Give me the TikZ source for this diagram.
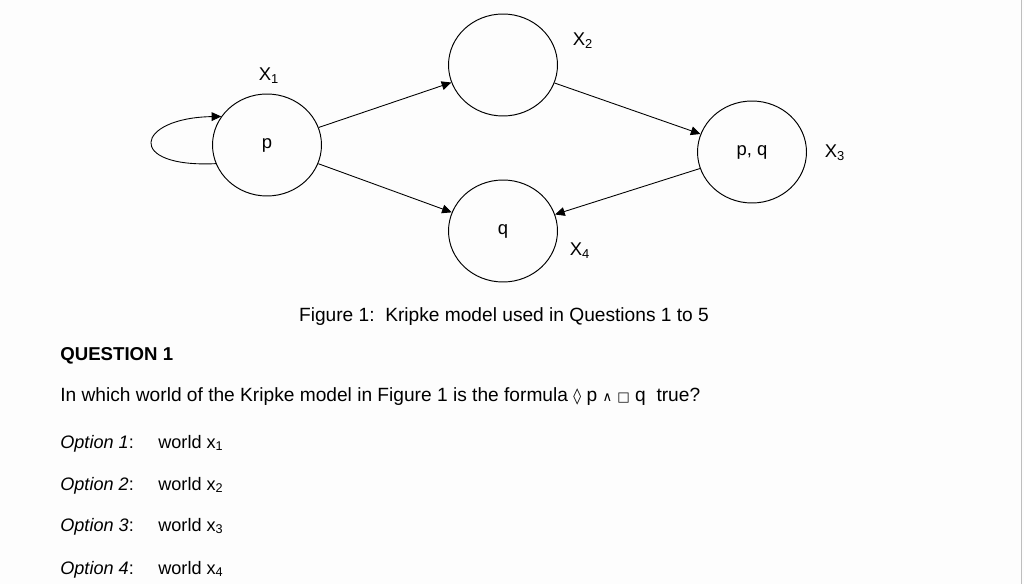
\documentclass[tikz,border=0pt]{standalone}
\usepackage{fontspec}
\setmainfont{Liberation Sans}
\newfontfamily\symfont{DejaVu Sans}
\usetikzlibrary{positioning, shapes.geometric, arrows.meta}
\definecolor{kmGray}{RGB}{190, 190, 190}
\definecolor{kmPaper}{RGB}{253, 253, 253}
\tikzset{
    base/.style={
        font=\fontsize{10.5pt}{12pt}\selectfont,
        inner sep=0pt
    },
    world/.style={
        base,
        ellipse,
        draw,
        line width=0.55pt,
        minimum width=2.18cm,
        minimum height=2.04cm
    },
    flow/.style={
        -{Triangle[length=5.5pt, width=5pt]},
        line width=0.5pt
    },
    tag/.style={
        base
    },
    line/.style={
        base,
        font=\fontsize{10.9pt}{13pt}\selectfont,
        anchor=base west
    }
}

\begin{document}
\begin{tikzpicture}[x=0.02cm, y=-0.02cm]
  \useasboundingbox (0,0) rectangle (1024,584);
  \fill[kmPaper] (0,0) rectangle (1024,584);
  \draw[kmGray, line width=0.8pt] (1021.5,0) -- (1021.5,584);

  % Worlds
  \node[world] (x1) at (267,145) {p};
  \node[world] (x2) at (503,65) {};
  \node[world] (x3) at (752,152) {p, q};
  \node[world] (x4) at (503,231) {q};

  % World names
  \node[tag] (n1) at (269,76) {X\textsubscript{1}};
  \node[tag] (n2) at (583,41) {X\textsubscript{2}};
  \node[tag] (n3) at (835,153) {X\textsubscript{3}};
  \node[tag] (n4) at (580,251) {X\textsubscript{4}};

  % Accessibility
  \draw[flow] (x1.200) .. controls (125,168) and (135,118) .. (x1.148);
  \draw[flow] (x1) -- (x2);
  \draw[flow] (x1) -- (x4);
  \draw[flow] (x2) -- (x3);
  \draw[flow] (x3) -- (x4);

  \node[line, anchor=base] (cap) at (504,321) {Figure 1:\ \ Kripke model used in Questions 1 to 5};

  \node[line, font=\fontsize{10.6pt}{12pt}\selectfont\bfseries] (q1) at (60,360) {QUESTION 1};
  \node[line] (ask) at (60,401) {In which world of the Kripke model in Figure 1 is the formula {\symfont\fontsize{9pt}{10pt}\selectfont ◊} p {\symfont\fontsize{7.5pt}{10pt}\selectfont ∧} {\symfont\fontsize{7.5pt}{10pt}\selectfont □} q\ \ true?};

  % Options
  \foreach \i/\y in {1/448, 2/490, 3/531, 4/574} {
    \node[line, font=\fontsize{10.3pt}{12pt}\selectfont] (opt\i) at (60,\y) {\itshape Option \i\upshape:};
    \node[line, font=\fontsize{10.3pt}{12pt}\selectfont] (ans\i) at (158,\y) {world x\textsubscript{\i}};
  }
\end{tikzpicture}
\end{document}
